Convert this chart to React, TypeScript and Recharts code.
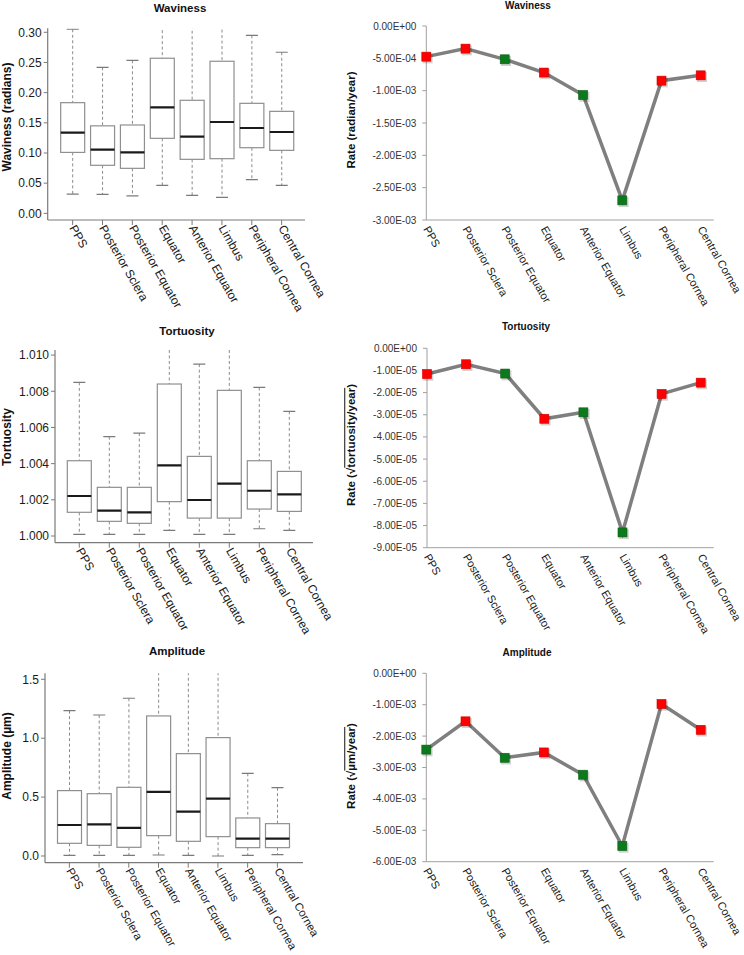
import React from 'react';
import { ComposedChart, Bar, XAxis, YAxis, LineChart, Line } from 'recharts';

// ---------- data ----------
const regions = ['PPS', 'Posterior Sclera', 'Posterior Equator', 'Equator', 'Anterior Equator', 'Limbus', 'Peripheral Cornea', 'Central Cornea'];

const wavinessMin = [0.032, 0.0315, 0.029, 0.0464, 0.0298, 0.0265, 0.0558, 0.0464];
const wavinessQ1 = [0.101, 0.0796, 0.0746, 0.1243, 0.0895, 0.0906, 0.1088, 0.1044];
const wavinessMedian = [0.1337, 0.1055, 0.101, 0.1757, 0.127, 0.1514, 0.1414, 0.1348];
const wavinessQ3 = [0.1834, 0.145, 0.1464, 0.257, 0.1873, 0.252, 0.1823, 0.169];
const wavinessMax = [0.305, 0.242, 0.2536, 0.34, 0.33, 0.35, 0.295, 0.2669];
const wavinessTicks = [0, 0.05, 0.1, 0.15, 0.2, 0.25, 0.3];

const tortuosityMin = [1.00009, 1.00009, 1.00009, 1.00031, 1.00009, 1.00009, 1.0004, 1.00031];
const tortuosityQ1 = [1.00131, 1.00081, 1.0007, 1.0019, 1.00099, 1.00099, 1.00149, 1.00136];
const tortuosityMedian = [1.00221, 1.0014, 1.00131, 1.0039, 1.00199, 1.00289, 1.0025, 1.0023];
const tortuosityQ3 = [1.00416, 1.00269, 1.00269, 1.0084, 1.0044, 1.00805, 1.00416, 1.00357];
const tortuosityMax = [1.00849, 1.00549, 1.00569, 1.0115, 1.0095, 1.0115, 1.00821, 1.00689];
const tortuosityTicks = [1.0, 1.002, 1.004, 1.006, 1.008, 1.01];

const amplitudeMin = [0.006, 0.006, 0.006, 0.0085, 0.006, 0.0, 0.006, 0.011];
const amplitudeQ1 = [0.1076, 0.09, 0.0736, 0.1727, 0.1245, 0.1642, 0.0708, 0.0708];
const amplitudeMedian = [0.263, 0.269, 0.238, 0.5435, 0.376, 0.4875, 0.147, 0.147];
const amplitudeQ3 = [0.555, 0.529, 0.583, 1.189, 0.869, 1.005, 0.3227, 0.2745];
const amplitudeMax = [1.234, 1.197, 1.339, 1.7, 1.7, 1.7, 0.702, 0.58];
const amplitudeTicks = [0, 0.5, 1.0, 1.5];

const wavinessRate = [-4.74e-4, -3.5e-4, -5.15e-4, -7.2e-4, -1.067e-3, -2.696e-3, -8.45e-4, -7.63e-4];
const wavinessRateSignificant = [false, false, true, false, true, true, false, false];
const wavinessRateTicks = [0, -5e-4, -1e-3, -1.5e-3, -2e-3, -2.5e-3, -3e-3];

const tortuosityRate = [-1.16e-5, -0.72e-5, -1.14e-5, -3.18e-5, -2.89e-5, -8.31e-5, -2.06e-5, -1.55e-5];
const tortuosityRateSignificant = [false, false, true, false, true, true, false, false];
const tortuosityRateTicks = [0, -1e-5, -2e-5, -3e-5, -4e-5, -5e-5, -6e-5, -7e-5, -8e-5, -9e-5];

const amplitudeRate = [-2.43e-3, -1.53e-3, -2.69e-3, -2.52e-3, -3.23e-3, -5.5e-3, -0.977e-3, -1.8e-3];
const amplitudeRateSignificant = [true, false, true, false, true, true, false, false];
const amplitudeRateTicks = [0, -1e-3, -2e-3, -3e-3, -4e-3, -5e-3, -6e-3];

// ---------- builders ----------
const boxData = (mn: number[], q1: number[], md: number[], q3: number[], mx: number[]) =>
  regions.map((name, i) => ({ name, min: mn[i], q1: q1[i], median: md[i], q3: q3[i], max: mx[i] }));
const rateData = (vals: number[], sig: boolean[]) =>
  regions.map((name, i) => ({ name, rate: vals[i], sig: sig[i] }));

const FONT = '"Liberation Sans", Arial, Helvetica, sans-serif';

const sci = (v: number) => {
  if (v === 0) return '0.00E+00';
  const [m, e] = v.toExponential(2).split('e');
  const en = parseInt(e, 10);
  return `${m}E${en < 0 ? '-' : '+'}${String(Math.abs(en)).padStart(2, '0')}`;
};

const AngledTick = (props: any) => {
  const { x, y, payload, fs } = props;
  return (
    <text x={x} y={y} transform={`rotate(60 ${x} ${y})`} textAnchor="start" dy="0.35em"
      fontSize={fs || 12} fontFamily={FONT} fill="#1a1a1a">
      {payload.value}
    </text>
  );
};

const BoxShape = (props: any) => {
  const { x, y, width, height, payload } = props;
  if (!payload || height == null) return null;
  const { min, q1, median, q3, max } = payload;
  const toY = (v: number) => y + ((max - v) / (max - min)) * height;
  const cx = x + width / 2;
  const cap = 6;
  return (
    <g>
      <line x1={cx} x2={cx} y1={toY(max)} y2={toY(q3)} stroke="#8a8a8a" strokeWidth={1} strokeDasharray="3 2.5" />
      <line x1={cx - cap} x2={cx + cap} y1={toY(max)} y2={toY(max)} stroke="#7a7a7a" strokeWidth={1.2} />
      <line x1={cx} x2={cx} y1={toY(q1)} y2={toY(min)} stroke="#8a8a8a" strokeWidth={1} strokeDasharray="3 2.5" />
      <line x1={cx - cap} x2={cx + cap} y1={toY(min)} y2={toY(min)} stroke="#7a7a7a" strokeWidth={1.2} />
      <rect x={x} y={toY(q3)} width={width} height={toY(q1) - toY(q3)} fill="#ffffff" stroke="#8f8f8f" strokeWidth={1.2} />
      <line x1={x} x2={x + width} y1={toY(median)} y2={toY(median)} stroke="#1a1a1a" strokeWidth={2.2} />
    </g>
  );
};

const SquareDot = (props: any) => {
  const { cx, cy, payload, index } = props;
  if (cx == null || cy == null) return <g key={index} />;
  const s = 9;
  const fill = payload.sig ? '#0c7a1c' : '#ff0000';
  const edge = payload.sig ? '#0a5e16' : '#d00000';
  return (
    <g key={index}>
      <rect x={cx - s / 2 + 0.8} y={cy - s / 2 + 1.2} width={s + 1} height={s + 1} fill="rgba(0,0,0,0.18)" />
      <rect x={cx - s / 2} y={cy - s / 2} width={s} height={s} fill={fill} stroke={edge} strokeWidth={0.6} />
    </g>
  );
};

type Rect = { left: number; right: number; top: number; bottom: number };

const BoxPanel = ({ ox, oy, w, h, plot, data, domain, ticks, fmt, padL, padR, fs }: any) => {
  const yW = 40;
  const xH = 90;
  const p: Rect = plot;
  return (
    <div style={{ position: 'absolute', left: ox, top: oy, width: w, height: h }}>
      <ComposedChart width={w} height={h} data={data}
        margin={{ top: p.top, right: w - p.right, bottom: h - p.bottom - xH, left: p.left - yW }}>
        <XAxis dataKey="name" type="category" height={xH} interval={0} padding={{ left: padL, right: padR }}
          axisLine={{ stroke: '#7a7a7a', strokeWidth: 1.2 }} tickLine={{ stroke: '#7a7a7a' }} tickSize={5} tickMargin={1}
          tick={<AngledTick fs={fs || 12} />} />
        <YAxis type="number" width={yW} domain={domain} allowDataOverflow ticks={ticks} interval={0}
          tickFormatter={fmt} axisLine={{ stroke: '#7a7a7a', strokeWidth: 1.2 }} tickLine={{ stroke: '#7a7a7a' }}
          tickSize={4} tickMargin={2} tick={{ fontSize: 12, fontFamily: FONT, fill: '#1a1a1a' }} />
        <Bar dataKey={(d: any) => [d.min, d.max]} barSize={24} shape={<BoxShape />} isAnimationActive={false} />
      </ComposedChart>
    </div>
  );
};

const RatePanel = ({ ox, oy, w, h, plot, data, domain, ticks }: any) => {
  const yW = 50;
  const xH = 90;
  const p: Rect = plot;
  return (
    <div style={{ position: 'absolute', left: ox, top: oy, width: w, height: h }}>
      <LineChart width={w} height={h} data={data}
        margin={{ top: p.top, right: w - p.right, bottom: h - p.bottom - xH, left: p.left - yW }}>
        <XAxis dataKey="name" type="category" height={xH} interval={0} padding={{ left: 0, right: 13 }}
          axisLine={{ stroke: '#a0a0a0', strokeWidth: 1 }} tickLine={false} tickSize={0} tickMargin={7}
          tick={<AngledTick fs={11.1} />} />
        <YAxis type="number" width={yW} domain={domain} allowDataOverflow ticks={ticks} interval={0}
          tickFormatter={sci} axisLine={{ stroke: '#a0a0a0', strokeWidth: 1 }} tickLine={{ stroke: '#a0a0a0' }}
          tickSize={4} tickMargin={6} tick={{ fontSize: 10, fontFamily: FONT, fill: '#333' }} />
        <Line type="linear" dataKey="rate" stroke="#7f7f7f" strokeWidth={3.5} dot={(pp: any) => <SquareDot key={pp.index} {...pp} />}
          activeDot={false} isAnimationActive={false} />
      </LineChart>
    </div>
  );
};

const Title = ({ x, y, size, children }: any) => (
  <div style={{ position: 'absolute', left: x, top: y, transform: 'translate(-50%,-50%)', fontFamily: FONT,
    fontWeight: 'bold', fontSize: size, color: '#111', whiteSpace: 'nowrap', lineHeight: 1 }}>{children}</div>
);

const VLabel = ({ x, y, size, children }: any) => (
  <div style={{ position: 'absolute', left: x, top: y, transform: 'translate(-50%,-50%) rotate(-90deg)', fontFamily: FONT,
    fontWeight: 'bold', fontSize: size, color: '#111', whiteSpace: 'nowrap', lineHeight: 1 }}>{children}</div>
);

export default function App() {
  const wav = boxData(wavinessMin, wavinessQ1, wavinessMedian, wavinessQ3, wavinessMax);
  const tor = boxData(tortuosityMin, tortuosityQ1, tortuosityMedian, tortuosityQ3, tortuosityMax);
  const amp = boxData(amplitudeMin, amplitudeQ1, amplitudeMedian, amplitudeQ3, amplitudeMax);
  const wavR = rateData(wavinessRate, wavinessRateSignificant);
  const torR = rateData(tortuosityRate, tortuosityRateSignificant);
  const ampR = rateData(amplitudeRate, amplitudeRateSignificant);

  return (
    <div style={{ position: 'absolute', left: 0, top: 0, width: 744, height: 955, background: '#fff', overflow: 'hidden' }}>
      <BoxPanel ox={0} oy={0} w={372} h={320} plot={{ left: 47.7, right: 305, top: 28.3, bottom: 220 }}
        data={wav} domain={[-0.011, 0.3066]} ticks={wavinessTicks} fmt={(v: number) => v.toFixed(2)} padL={10} padR={8.4} />
      <BoxPanel ox={0} oy={320} w={372} h={320} plot={{ left: 55, right: 313, top: 30, bottom: 222.7 }}
        data={tor} domain={[0.99963, 1.01028]} ticks={tortuosityTicks} fmt={(v: number) => v.toFixed(3)} padL={9.3} padR={8.7} />
      <BoxPanel ox={0} oy={640} w={372} h={315} plot={{ left: 45, right: 303, top: 33.3, bottom: 222.7 }}
        data={amp} domain={[-0.057, 1.551]} ticks={amplitudeTicks} fmt={(v: number) => v.toFixed(1)} padL={9.5} padR={10.8} fs={11.4} />

      <RatePanel ox={372} oy={0} w={372} h={320} plot={{ left: 54.3, right: 341.7, top: 26, bottom: 220 }}
        data={wavR} domain={[-3e-3, 0]} ticks={wavinessRateTicks} />
      <RatePanel ox={372} oy={320} w={372} h={320} plot={{ left: 55, right: 341.7, top: 28.3, bottom: 227.7 }}
        data={torR} domain={[-9e-5, 0]} ticks={tortuosityRateTicks} />
      <RatePanel ox={372} oy={640} w={372} h={315} plot={{ left: 54.3, right: 341.7, top: 33.3, bottom: 221.7 }}
        data={ampR} domain={[-6e-3, 0]} ticks={amplitudeRateTicks} />

      <Title x={180} y={9} size={11.5}>Waviness</Title>
      <Title x={187} y={332} size={11.5}>Tortuosity</Title>
      <Title x={177} y={652} size={11.5}>Amplitude</Title>
      <Title x={528} y={5.5} size={10}>Waviness</Title>
      <Title x={526} y={327} size={10}>Tortuosity</Title>
      <Title x={527} y={653} size={10}>Amplitude</Title>

      <VLabel x={7} y={117} size={12}>Waviness (radians)</VLabel>
      <VLabel x={7} y={437} size={12}>Tortuosity</VLabel>
      <VLabel x={7} y={756} size={12}>Amplitude (µm)</VLabel>
      <VLabel x={352} y={120} size={11.5}>Rate (radian/year)</VLabel>
      <VLabel x={352} y={445} size={11.5}>Rate (√<span style={{ textDecoration: 'overline' }}>tortuosity/year</span>)</VLabel>
      <VLabel x={352} y={766} size={11.5}>Rate (√<span style={{ textDecoration: 'overline' }}>µm/year</span>)</VLabel>
    </div>
  );
}
